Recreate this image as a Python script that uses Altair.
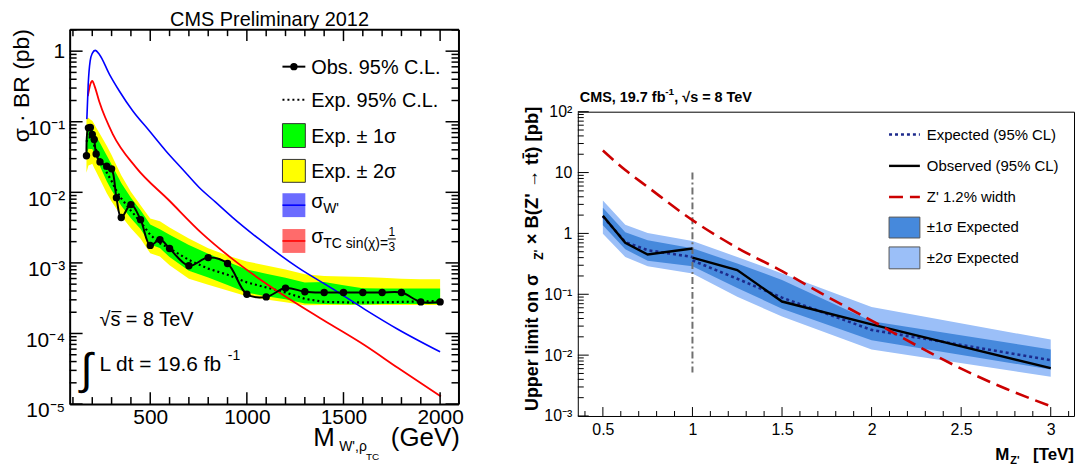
import math
import altair as alt
import pandas as pd

FONT = "Liberation Sans"

# ---------------- Left panel: W' / rho_TC search ----------------
mass_left = [170, 180, 190, 200, 210, 220, 240, 275, 300, 325, 350, 400, 450, 500, 550, 600,
             700, 800, 900, 1000, 1100, 1200, 1300, 1400, 1500, 1600, 1700, 1800, 1900, 2000]
obs_left = [0.033, 0.082, 0.083, 0.066, 0.056, 0.035, 0.027, 0.0234, 0.0215, 0.0084, 0.0044, 0.0067,
            0.0041, 0.00177, 0.00214, 0.0016, 0.00091, 0.00119, 0.00098, 0.00036, 0.00033, 0.00044,
            0.00039, 0.00038, 0.00038, 0.00038, 0.00038, 0.00038, 0.00028, 0.00028]
exp_left = [0.052, 0.060, 0.060, 0.055, 0.046, 0.040, 0.030, 0.019, 0.0145, 0.0105, 0.0082, 0.0055,
            0.0038, 0.0025, 0.0019, 0.0016, 0.00110, 0.00083, 0.00068, 0.00053, 0.00045, 0.00038,
            0.00031, 0.000280, 0.000277, 0.000275, 0.000277, 0.00028, 0.000284, 0.000288]
hi2_left = [0.110, 0.114, 0.108, 0.103, 0.0926, 0.083, 0.0669, 0.0458, 0.0337, 0.0242, 0.0174, 0.0102,
            0.00656, 0.00427, 0.00388, 0.00317, 0.00221, 0.00161, 0.00127, 0.00105, 0.00092, 0.000809,
            0.00069, 0.000654, 0.000644, 0.000633, 0.000617, 0.000596, 0.000588, 0.000588]
hi1_left = [0.0849, 0.0849, 0.0816, 0.0787, 0.0703, 0.0625, 0.0498, 0.0333, 0.0248, 0.0184, 0.0136,
            0.00837, 0.00555, 0.00351, 0.00299, 0.00250, 0.00179, 0.00135, 0.00104, 0.000806, 0.000703,
            0.000617, 0.000526, 0.000538, 0.000484, 0.000439, 0.000435, 0.000435, 0.000435, 0.000435]
lo1_left = [0.0331, 0.0415, 0.0412, 0.0411, 0.0357, 0.0311, 0.0235, 0.0143, 0.0107, 0.00834, 0.00647,
            0.00428, 0.00303, 0.00183, 0.00162, 0.00121, 0.000773, 0.000619, 0.000487, 0.000378, 0.000338,
            0.000306, 0.000267, 0.000261, 0.000259, 0.000257, 0.000261, 0.000261, 0.000261, 0.000261]
lo2_left = [0.0190, 0.0239, 0.0245, 0.0253, 0.0222, 0.0195, 0.0152, 0.00968, 0.00739, 0.00585, 0.00461,
            0.00309, 0.00219, 0.00137, 0.00123, 0.00093, 0.000594, 0.000492, 0.000407, 0.000336, 0.000304,
            0.000276, 0.000251, 0.000253, 0.000253, 0.000253, 0.000253, 0.000253, 0.000253, 0.000253]

mass_wprime = [172, 179, 189, 200, 215, 237, 289, 340, 409, 495, 580, 666, 752, 838, 924, 1061,
               1267, 1438, 1610, 1781, 2000]
xsec_wprime = [0.109, 0.34, 0.725, 0.93, 1.025, 0.90, 0.47, 0.273, 0.143, 0.0745, 0.0389, 0.0214,
               0.0118, 0.00726, 0.00446, 0.0022, 0.00085, 0.00044, 0.00022, 0.000115, 0.000055]
mass_rhotc = [177, 190, 200, 212, 237, 306, 426, 598, 769, 923, 1095, 1267, 1438, 1610, 1781, 2004]
xsec_rhotc = [0.23, 0.34, 0.378, 0.32, 0.19, 0.067, 0.0226, 0.00766, 0.0026, 0.00115, 0.000520,
              0.000255, 0.000132, 0.000068, 0.0000326, 0.0000128]

# ---------------- Right panel: Z' -> ttbar ----------------
mass_right = [0.5, 0.625, 0.75, 1.0, 1.25, 1.5, 2.0, 3.0]
lo2_right = [0.99, 0.41, 0.29, 0.22, 0.091, 0.043, 0.0124, 0.0044]
lo1_right = [1.36, 0.55, 0.355, 0.29, 0.127, 0.058, 0.0175, 0.0058]
hi1_right = [2.64, 1.05, 0.77, 0.57, 0.32, 0.172, 0.036, 0.0124]
hi2_right = [3.47, 1.39, 1.02, 0.75, 0.41, 0.22, 0.062, 0.018]

obs_mass_low = [0.5, 0.625, 0.75, 1.0]
obs_low = [1.95, 0.70, 0.45, 0.565]
exp_low = [1.9, 0.72, 0.53, 0.41]
obs_mass_high = [1.0, 1.25, 1.5, 2.0, 3.0]
obs_high = [0.40, 0.25, 0.076, 0.032, 0.0061]
exp_high = [0.36, 0.18, 0.088, 0.026, 0.0083]

zprime_mass = [0.5, 0.625, 0.75, 1.0, 1.25, 1.5, 1.75, 2.0, 2.25, 2.5, 2.75, 3.0]
zprime_xsec = [23, 11, 5.8, 1.65, 0.58, 0.24, 0.092, 0.037, 0.0145, 0.0060, 0.0028, 0.00145]

divider_mass = [1.0]
divider_top = [10]
divider_bottom = [0.0052]

# ---------------- tick positions ----------------
yL_major = [1e-5, 1e-4, 1e-3, 1e-2, 1e-1, 1.0]
yL_minor = [float(k) * 10.0 ** e for e in range(-5, 1) for k in range(2, 10) if k * 10.0 ** e <= 2.05]
xL_major = [500.0, 1000.0, 1500.0, 2000.0]
xL_minor = [float(m) for m in range(100, 2001, 100) if m % 500 != 0]
yR_major = [1e-3, 1e-2, 1e-1, 1.0, 10.0, 100.0]
yR_minor = [float(k) * 10.0 ** e for e in range(-3, 2) for k in range(2, 10)]
xR_major = [0.5, 1.0, 1.5, 2.0, 2.5, 3.0]
xR_minor = [round(0.4 + 0.1 * i, 2) for i in range(28) if (4 + i) % 5 != 0]

# ---------------- layout constants ----------------
W, H = 1010, 389
LX = [0, 391]
LY = [377, 0]
RX = [511, 1010]
RY = [389, 83]
LDX = [83, 2095]
LDY = [1e-5, 2.05]
RDX = [0.36, 3.13]
RDY = [1e-3, 1e2]


def xsL():
    return alt.Scale(domain=LDX, range=LX)


def ysL():
    return alt.Scale(type="log", domain=LDY, range=LY)


def xsR():
    return alt.Scale(domain=RDX, range=RX)


def ysR():
    return alt.Scale(type="log", domain=RDY, range=RY)


def lin_px(v, dom, rng):
    return rng[0] + (v - dom[0]) / (dom[1] - dom[0]) * (rng[1] - rng[0])


def log_px(v, dom, rng):
    a, b = math.log10(dom[0]), math.log10(dom[1])
    return rng[0] + (math.log10(v) - a) / (b - a) * (rng[1] - rng[0])


def frame_axis(orient, offset, dwidth):
    return alt.Axis(orient=orient, offset=offset, labels=False, ticks=False, tickSize=0, domain=True,
                    domainColor="black", domainWidth=dwidth, grid=False, title=None, zindex=1)


ax_L_x = alt.Axis(orient="bottom", offset=-(H - LY[0]), values=xL_major, format="d",
                  ticks=False, tickSize=0, domain=True, domainColor="black", domainWidth=2,
                  labelFont=FONT, labelFontSize=21, labelPadding=3, labelFlush=False,
                  labelOverlap=False, labelColor="black", grid=False, title=None, zindex=1)
ax_L_y = alt.Axis(orient="left", offset=0, values=yL_major,
                  labelExpr=("datum.value > 0.5 ? '1' : datum.value > 0.05 ? '10⁻¹' : "
                             "datum.value > 0.005 ? '10⁻²' : datum.value > 0.0005 ? '10⁻³' : "
                             "datum.value > 0.00005 ? '10⁻⁴' : '10⁻⁵'"),
                  ticks=False, tickSize=0, domain=True, domainColor="black", domainWidth=2,
                  labelFont=FONT, labelFontSize=21, labelPadding=5, labelFlush=False,
                  labelOverlap=False, labelColor="black",
                  labelOffset={"condition": {"test": "datum.value < 0.5", "value": 7}, "value": 0},
                  grid=False, title=None, zindex=1)
ax_R_x = alt.Axis(orient="bottom", offset=0, values=xR_major, format="~g",
                  ticks=False, tickSize=0, domain=True, domainColor="black", domainWidth=1,
                  labelFont=FONT, labelFontSize=16, labelPadding=6, labelFlush=False,
                  labelOverlap=False, labelColor="black", grid=False, title=None, zindex=1)
ax_R_y = alt.Axis(orient="left", offset=-RX[0], values=yR_major,
                  labelExpr=("datum.value > 50 ? '10²' : datum.value > 5 ? '10' : "
                             "datum.value > 0.5 ? '1' : datum.value > 0.05 ? '10⁻¹' : "
                             "datum.value > 0.005 ? '10⁻²' : '10⁻³'"),
                  ticks=False, tickSize=0, domain=True, domainColor="black", domainWidth=1,
                  labelFont=FONT, labelFontSize=16, labelPadding=6, labelFlush=False,
                  labelOverlap=False, labelColor="black", grid=False, title=None, zindex=1)

# ---------------- inward frame ticks (tick values mapped to pixels like the panel scales) ----------------
tick_rows = []


def add_y(values, dom, rng, x0, x1, w):
    for v in values:
        p = log_px(v, dom, rng)
        tick_rows.append({"x0": x0, "x1": x1, "y0": p, "y1": p, "w": w})


def add_x(values, dom, rng, y0, y1, w):
    for v in values:
        p = lin_px(v, dom, rng)
        tick_rows.append({"x0": p, "x1": p, "y0": y0, "y1": y1, "w": w})


add_y(yL_major, LDY, LY, LX[0], LX[0] + 13, 1.5)
add_y(yL_minor, LDY, LY, LX[0], LX[0] + 7, 1.5)
add_y(yL_major, LDY, LY, LX[1] - 13, LX[1], 1.5)
add_y(yL_minor, LDY, LY, LX[1] - 7, LX[1], 1.5)
add_x(xL_major, LDX, LX, LY[0], LY[0] - 12, 1.5)
add_x(xL_minor, LDX, LX, LY[0], LY[0] - 7, 1.5)
add_x(xL_major, LDX, LX, LY[1], LY[1] + 12, 1.5)
add_x(xL_minor, LDX, LX, LY[1], LY[1] + 7, 1.5)
add_y(yR_major, RDY, RY, RX[0], RX[0] + 11, 1)
add_y(yR_minor, RDY, RY, RX[0], RX[0] + 6, 1)
add_x(xR_major, RDX, RX, RY[0], RY[0] - 9, 1)
add_x(xR_minor, RDX, RX, RY[0], RY[0] - 5, 1)
df_ticks = pd.DataFrame(tick_rows)

frame_ticks = alt.Chart(df_ticks).mark_rule(color="black", opacity=1).encode(
    x=alt.X("x0:Q", scale=None, axis=None), x2="x1:Q",
    y=alt.Y("y0:Q", scale=None, axis=None), y2="y1:Q",
    strokeWidth=alt.StrokeWidth("w:Q", scale=None, legend=None))

# ---------------- left panel layers ----------------
df_L = pd.DataFrame(dict(m=mass_left, obs=obs_left, exp=exp_left, hi2=hi2_left, hi1=hi1_left,
                         lo1=lo1_left, lo2=lo2_left))
df_W = pd.DataFrame(dict(m=mass_wprime, v=xsec_wprime))
df_T = pd.DataFrame(dict(m=mass_rhotc, v=xsec_rhotc))

yellow = alt.Chart(df_L).mark_area(color="#ffff00").encode(
    x=alt.X("m:Q", scale=xsL(), axis=ax_L_x),
    y=alt.Y("hi2:Q", scale=ysL(), axis=ax_L_y), y2="lo2:Q")
green = alt.Chart(df_L).mark_area(color="#00ff00").encode(
    x=alt.X("m:Q", scale=xsL(), axis=None),
    y=alt.Y("hi1:Q", scale=ysL(), axis=None), y2="lo1:Q")
expected_L = alt.Chart(df_L).mark_line(color="black", strokeWidth=2.2, strokeDash=[2, 3]).encode(
    x=alt.X("m:Q", scale=xsL(), axis=frame_axis("bottom", -H, 2)),
    y=alt.Y("exp:Q", scale=ysL(), axis=frame_axis("left", -LX[1], 2)))
red_L = alt.Chart(df_T).mark_line(color="#ff0000", strokeWidth=1.8, interpolate="monotone").encode(
    x=alt.X("m:Q", scale=xsL(), axis=None), y=alt.Y("v:Q", scale=ysL(), axis=None))
blue_L = alt.Chart(df_W).mark_line(color="#0000ff", strokeWidth=1.6, interpolate="monotone").encode(
    x=alt.X("m:Q", scale=xsL(), axis=None), y=alt.Y("v:Q", scale=ysL(), axis=None))
obs_line_L = alt.Chart(df_L).mark_line(color="black", strokeWidth=2, interpolate="catmull-rom").encode(
    x=alt.X("m:Q", scale=xsL(), axis=None), y=alt.Y("obs:Q", scale=ysL(), axis=None))
obs_pts_L = alt.Chart(df_L).mark_point(color="black", filled=True, opacity=1, size=55).encode(
    x=alt.X("m:Q", scale=xsL(), axis=None), y=alt.Y("obs:Q", scale=ysL(), axis=None))

left_panel = alt.layer(yellow, green, expected_L, red_L, blue_L, obs_line_L,
                       obs_pts_L).resolve_axis(x="independent", y="independent")

# ---------------- right panel layers ----------------
df_R = pd.DataFrame(dict(m=mass_right, lo2=lo2_right, lo1=lo1_right, hi1=hi1_right, hi2=hi2_right))
df_obs_R = pd.DataFrame(dict(m=obs_mass_low + obs_mass_high, v=obs_low + obs_high,
                             seg=["low"] * len(obs_low) + ["high"] * len(obs_high)))
df_exp_R = pd.DataFrame(dict(m=obs_mass_low + obs_mass_high, v=exp_low + exp_high,
                             seg=["low"] * len(exp_low) + ["high"] * len(exp_high)))
df_Z = pd.DataFrame(dict(m=zprime_mass, v=zprime_xsec))
df_div = pd.DataFrame(dict(m=divider_mass, top=divider_top, bot=divider_bottom))

light = alt.Chart(df_R).mark_area(color="#9bbff8").encode(
    x=alt.X("m:Q", scale=xsR(), axis=ax_R_x),
    y=alt.Y("hi2:Q", scale=ysR(), axis=ax_R_y), y2="lo2:Q")
dark = alt.Chart(df_R).mark_area(color="#4689dc").encode(
    x=alt.X("m:Q", scale=xsR(), axis=None),
    y=alt.Y("hi1:Q", scale=ysR(), axis=None), y2="lo1:Q")
divider = alt.Chart(df_div).mark_rule(color="#707070", strokeWidth=2, strokeDash=[7, 3, 2, 3]).encode(
    x=alt.X("m:Q", scale=xsR(), axis=frame_axis("bottom", -(H - RY[1]), 1)),
    y=alt.Y("top:Q", scale=ysR(), axis=frame_axis("left", -RX[1], 1)), y2="bot:Q")
exp_R = alt.Chart(df_exp_R).mark_line(color="#1c2a8c", strokeWidth=2.6, strokeDash=[3, 3]).encode(
    x=alt.X("m:Q", scale=xsR(), axis=None), y=alt.Y("v:Q", scale=ysR(), axis=None), detail="seg:N")
obs_R = alt.Chart(df_obs_R).mark_line(color="black", strokeWidth=2.4).encode(
    x=alt.X("m:Q", scale=xsR(), axis=None), y=alt.Y("v:Q", scale=ysR(), axis=None), detail="seg:N")
zp_R = alt.Chart(df_Z).mark_line(color="#cc0000", strokeWidth=2.6, strokeDash=[14, 7],
                                 interpolate="monotone").encode(
    x=alt.X("m:Q", scale=xsR(), axis=None), y=alt.Y("v:Q", scale=ysR(), axis=None))

right_panel = alt.layer(light, dark, divider, exp_R, obs_R, zp_R).resolve_axis(
    x="independent", y="independent")

# ---------------- annotations (pixel positions in plot-area coordinates) ----------------
ONE = pd.DataFrame({"k": [0]})


def T(x, y, s, size, weight="normal", align="left", angle=0, color="black", baseline="alphabetic"):
    return alt.Chart(ONE).mark_text(text=s, font=FONT, fontSize=size, fontWeight=weight, align=align,
                                    baseline=baseline, angle=angle, color=color).encode(
        x=alt.value(x), y=alt.value(y))


def R(x1, x2, y1, y2, fill, stroke=None, sw=1):
    kw = dict(color=fill)
    if stroke:
        kw.update(stroke=stroke, strokeWidth=sw)
    return alt.Chart(ONE).mark_rect(**kw).encode(
        x=alt.value(x1), x2=alt.value(x2), y=alt.value(y1), y2=alt.value(y2))


def L(x1, x2, y, color, width, dash=None):
    kw = dict(color=color, strokeWidth=width)
    if dash:
        kw.update(strokeDash=dash)
    return alt.Chart(ONE).mark_rule(**kw).encode(x=alt.value(x1), x2=alt.value(x2), y=alt.value(y))


def P(x, y, color, size):
    return alt.Chart(ONE).mark_point(color=color, filled=True, opacity=1, size=size).encode(
        x=alt.value(x), y=alt.value(y))


notes = [
    # left panel
    T(201, -3, "CMS Preliminary 2012", 20, align="center"),
    T(-41, 0, "σ · BR (pb)", 23, align="right", angle=270),
    T(245, 419, "M", 26),
    T(271, 424, "W',", 14),
    T(291, 424, "ρ", 14),
    T(298, 433, "TC", 10),
    T(323, 419, "(GeV)", 26),
    L(214, 237, 37.7, "black", 2), P(225.5, 37.7, "black", 55),
    T(243, 45, "Obs. 95% C.L.", 20),
    L(214, 237, 71, "black", 2.2, [2, 3]),
    T(243, 78, "Exp. 95% C.L.", 20),
    R(214, 237, 95, 119, "#00ff00", "#333333", 1),
    T(243, 114, "Exp. ± 1σ", 20),
    R(214, 237, 131, 154, "#ffff00", "#333333", 1),
    T(243, 150, "Exp. ± 2σ", 20),
    R(214, 237, 165, 189, "#6b6bff"), L(214, 237, 177, "#0000ff", 1.6),
    T(243, 180, "σ", 20), T(255, 185, "W'", 14),
    R(214, 237, 201, 225, "#ff6b6b"), L(214, 237, 213, "#ff0000", 1.6),
    T(243, 215, "σ", 20), T(255, 220, "TC sin(χ)=", 14),
    T(324, 208, "1", 12, align="center"), L(320, 328, 211, "black", 1),
    T(324, 223, "3", 12, align="center"),
    T(30, 299, "√s = 8 TeV", 20),
    L(42, 52, 284, "black", 1.2),
    T(11, 357, "∫", 44),
    T(30, 344, "L dt = 19.6 fb", 21),
    T(159, 333, "-1", 14),
    # right panel
    T(513, 73, "CMS, 19.7 fb", 14.5, weight="bold"),
    T(599, 66, "-1", 10, weight="bold"),
    T(608, 73, ", √s = 8 TeV", 14.5, weight="bold"),
    T(471, 384, "Upper limit on σ", 18, weight="bold", angle=270),
    T(476, 232, "Z'", 12, weight="bold", angle=270),
    T(471, 78, "× B(Z' → tt̄) [pb]", 18.5, weight="bold", align="right", angle=270),
    T(945, 433, "M", 17, weight="bold", align="right"),
    T(946, 437, "Z'", 11, weight="bold"),
    T(1010, 433, "[TeV]", 17, weight="bold", align="right"),
    L(824, 855, 106, "#1c2a8c", 2.6, [3, 3]),
    T(862, 111, "Expected (95% CL)", 15),
    L(824, 855, 137.5, "black", 2.4),
    T(862, 142.5, "Observed (95% CL)", 15),
    L(824, 855, 168.7, "#cc0000", 2.6, [14, 7]),
    T(862, 173.7, "Z' 1.2% width", 15),
    R(824, 855, 189, 210, "#4689dc", "#555555", 1),
    T(862, 204, "±1σ Expected", 15),
    R(824, 855, 219, 241, "#9bbff8", "#555555", 1),
    T(862, 235, "±2σ Expected", 15),
]

chart = alt.layer(left_panel, right_panel, frame_ticks, *notes).resolve_scale(
    x="independent", y="independent"
).properties(
    width=W, height=H,
    autosize=alt.AutoSizeParams(type="none"),
    padding={"left": 62, "top": 20, "right": 2, "bottom": 48},
).configure_view(stroke=None).configure_axis(grid=False)

chart.save("out.html", embed_options={"renderer": "svg", "actions": False})
